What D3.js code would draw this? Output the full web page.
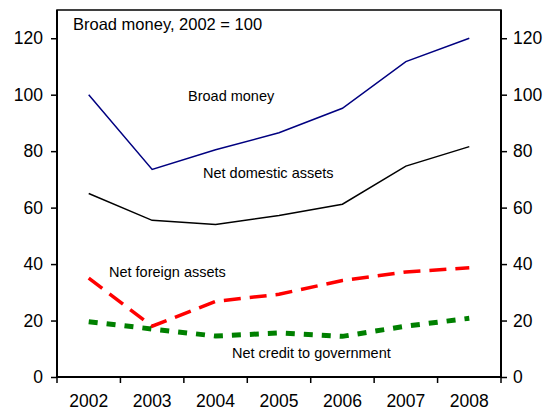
<!DOCTYPE html>
<html>
<head>
<meta charset="utf-8">
<script src="https://cdn.jsdelivr.net/npm/d3@7"></script>
<style>
  body { margin: 0; background: #fff; }
  text { font-family: "Liberation Sans", Arial, sans-serif; fill: #000; }
</style>
</head>
<body>
<div id="chart"></div>
<script>
const years = ["2002", "2003", "2004", "2005", "2006", "2007", "2008"];
const broadMoney = [100, 73.5, 80.5, 86.5, 95.2, 111.7, 120];
const netDomestic = [65, 55.5, 54, 57.2, 61.2, 74.7, 81.6];
const netForeign = [35, 18, 26.8, 29.3, 34.2, 37.2, 38.7];
const netCredit = [19.6, 17, 14.5, 15.6, 14.4, 18, 20.8];
const yTicks = [0, 20, 40, 60, 80, 100, 120];

const width = 550, height = 410;
const margin = { top: 10, right: 49, bottom: 33, left: 57 };

const svg = d3.select("#chart").append("svg")
    .attr("width", width)
    .attr("height", height);

const x = d3.scaleBand()
    .domain(years)
    .range([margin.left, width - margin.right]);

const y = d3.scaleLinear()
    .domain([0, 130])
    .range([height - margin.bottom, margin.top]);

// frame
svg.append("rect")
    .attr("x", margin.left)
    .attr("y", margin.top)
    .attr("width", width - margin.left - margin.right)
    .attr("height", height - margin.top - margin.bottom)
    .attr("fill", "none")
    .attr("stroke", "#000")
    .attr("stroke-width", 1.5);

// x axis: ticks between categories
const xAxis = svg.append("g")
    .attr("transform", "translate(0," + (height - margin.bottom) + ")");
xAxis.append("line")
    .attr("x1", margin.left).attr("x2", width - margin.right)
    .attr("stroke", "#000").attr("stroke-width", 2);
const bounds = years.map(d => x(d)).concat([x(years[years.length - 1]) + x.bandwidth()]);
xAxis.selectAll(".xt").data(bounds).enter().append("line")
    .attr("x1", d => d).attr("x2", d => d)
    .attr("y1", 0).attr("y2", 6)
    .attr("stroke", "#000").attr("stroke-width", 1.5);
xAxis.selectAll(".xl").data(years).enter().append("text")
    .attr("x", d => x(d) + x.bandwidth() / 2)
    .attr("y", 30)
    .attr("text-anchor", "middle")
    .style("font-size", "17.5px")
    .text(d => d);

// left axis
const yLeft = d3.axisLeft(y).tickValues(yTicks).tickSize(6).tickPadding(8);
svg.append("g")
    .attr("transform", "translate(" + margin.left + ",0)")
    .call(yLeft)
    .call(g => g.select(".domain").attr("stroke-width", 2).attr("d", "M0," + y(130) + "V" + y(0)))
    .call(g => g.selectAll(".tick line").attr("stroke-width", 1.5))
    .call(g => g.selectAll(".tick text").style("font-size", "17.5px").attr("font-family", null));

// right axis
const yRight = d3.axisRight(y).tickValues(yTicks).tickSize(6).tickPadding(6);
svg.append("g")
    .attr("transform", "translate(" + (width - margin.right) + ",0)")
    .call(yRight)
    .call(g => g.select(".domain").attr("stroke-width", 2).attr("d", "M0," + y(130) + "V" + y(0)))
    .call(g => g.selectAll(".tick line").attr("stroke-width", 1.5))
    .call(g => g.selectAll(".tick text").style("font-size", "17.5px").attr("font-family", null));

const line = d3.line()
    .x((d, i) => x(years[i]) + x.bandwidth() / 2)
    .y(d => y(d));

svg.append("path").datum(broadMoney)
    .attr("fill", "none").attr("stroke", "#000080").attr("stroke-width", 1.5)
    .attr("d", line);

svg.append("path").datum(netDomestic)
    .attr("fill", "none").attr("stroke", "#000").attr("stroke-width", 1.5)
    .attr("d", line);

svg.append("path").datum(netForeign)
    .attr("fill", "none").attr("stroke", "#ff0000").attr("stroke-width", 3.5)
    .attr("stroke-dasharray", "17,9")
    .attr("d", line);

svg.append("path").datum(netCredit)
    .attr("fill", "none").attr("stroke", "#008000").attr("stroke-width", 5)
    .attr("stroke-dasharray", "9,9")
    .attr("d", line);

// labels
const labels = [
    { t: "Broad money, 2002 = 100", x: 73, y: 30, s: 16.5 },
    { t: "Broad money", x: 188, y: 101, s: 14.5 },
    { t: "Net domestic assets", x: 203, y: 178, s: 14.5 },
    { t: "Net foreign assets", x: 109, y: 277, s: 14.5 },
    { t: "Net credit to government", x: 232, y: 358, s: 14.5 }
];
svg.selectAll(".lab").data(labels).enter().append("text")
    .attr("x", d => d.x).attr("y", d => d.y)
    .style("font-size", d => d.s + "px")
    .text(d => d.t);
</script>
</body>
</html>
